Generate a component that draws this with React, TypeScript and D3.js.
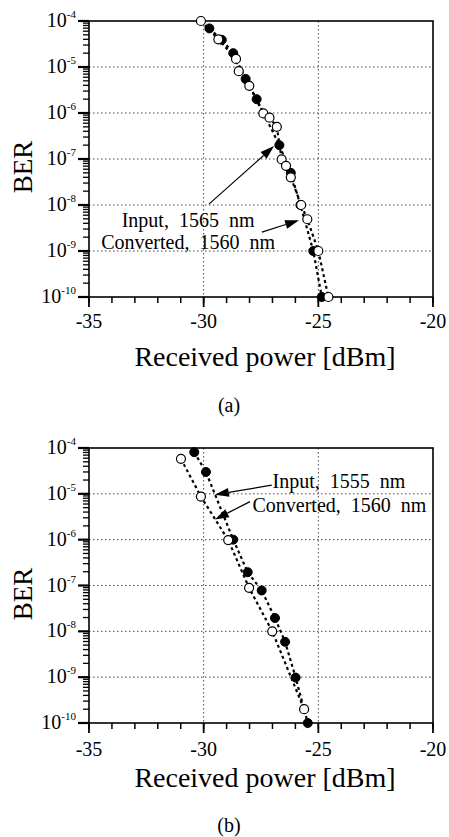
import React from "react";
import * as d3 from "d3";

// ---- Data (panel a) ----
const inputA_power = [-29.75, -29.21, -28.71, -28.17, -27.69, -26.7, -26.2, -25.78, -25.22, -24.85];
const inputA_ber = [6.9e-5, 3.9e-5, 2.0e-5, 5.5e-6, 2.0e-6, 2.0e-7, 5.0e-8, 1e-8, 1e-9, 1e-10];
const convA_power = [-30.12, -29.36, -28.59, -28.47, -28.01, -27.4, -27.13, -26.81, -26.6, -26.41, -26.2, -25.75, -25.48, -25.0, -24.56];
const convA_ber = [1e-4, 4.0e-5, 1.5e-5, 8.1e-6, 3.9e-6, 9.8e-7, 7.9e-7, 5.0e-7, 9.8e-8, 7.1e-8, 4.0e-8, 1e-8, 4.9e-9, 1e-9, 1e-10];

// ---- Data (panel b) ----
const inputB_power = [-30.41, -29.9, -28.71, -28.08, -27.47, -26.89, -26.45, -25.99, -25.46];
const inputB_ber = [8.1e-5, 3.0e-5, 1e-6, 1.95e-7, 7.8e-8, 1.95e-8, 5.9e-9, 9.8e-10, 1e-10];
const convB_power = [-30.99, -30.12, -28.93, -28.02, -27.01, -25.62];
const convB_ber = [5.8e-5, 8.7e-6, 9.8e-7, 8.9e-8, 1.0e-8, 2.0e-10];

// ---- Axes ----
const xMajorTicks = [-35, -30, -25, -20];
const xMinorTicks = d3.range(-35, -19, 1);
const xGrid = [-30, -25];
const yDecades = [-4, -5, -6, -7, -8, -9, -10];
const yGridDecades = [-5, -6, -7, -8, -9];
const xLabel = "Received power [dBm]";
const yLabel = "BER";

// ---- Annotations ----
const labelsA = ["Input,  1565  nm", "Converted,  1560  nm"];
const labelsB = ["Input,  1555  nm", "Converted,  1560  nm"];

const FONT = "'Liberation Serif', 'Times New Roman', serif";

type Panel = {
  yTop: number;
  yBot: number;
  tickBase: number;
  xLabelBase: number;
  capBase: number;
  berY: number;
  caption: string;
  input: { p: number[]; b: number[] };
  conv: { p: number[]; b: number[] };
  labels: string[];
  textPos: { x: number; ly: number }[];
  arrows: { x1: number; l1: number; x2: number; l2: number }[];
};

function Arrow({ x1, y1, x2, y2 }: { x1: number; y1: number; x2: number; y2: number }) {
  const ang = Math.atan2(y2 - y1, x2 - x1);
  const L = 14, W = 4.5;
  const bx = x2 - L * Math.cos(ang), by = y2 - L * Math.sin(ang);
  const px = -Math.sin(ang) * W, py = Math.cos(ang) * W;
  return (
    <g>
      <line x1={x1} y1={y1} x2={bx} y2={by} stroke="#000" strokeWidth={1.2} />
      <polygon points={`${x2},${y2} ${bx + px},${by + py} ${bx - px},${by - py}`} fill="#000" />
    </g>
  );
}

function PanelView({ cfg }: { cfg: Panel }) {
  const x = d3.scaleLinear().domain([-35, -20]).range([89, 433]);
  const y = d3.scaleLog().domain([1e-10, 1e-4]).range([cfg.yBot, cfg.yTop]);
  const line = d3
    .line<[number, number]>()
    .x((d) => x(d[0]))
    .y((d) => y(d[1]));
  const inPts: [number, number][] = cfg.input.p.map((p, i) => [p, cfg.input.b[i]]);
  const cvPts: [number, number][] = cfg.conv.p.map((p, i) => [p, cfg.conv.b[i]]);
  const minor: number[] = [];
  for (let e = -10; e < -4; e++) for (let m = 2; m <= 9; m++) minor.push(m * Math.pow(10, e));
  const x0 = x(-35), x1 = x(-20);
  return (
    <g fontFamily={FONT}>
      {xGrid.map((v) => (
        <line key={"gx" + v} x1={x(v)} x2={x(v)} y1={cfg.yTop} y2={cfg.yBot} stroke="#444" strokeWidth={1} strokeDasharray="1.5 2.5" />
      ))}
      {yGridDecades.map((e) => (
        <line key={"gy" + e} x1={x0} x2={x1} y1={y(Math.pow(10, e))} y2={y(Math.pow(10, e))} stroke="#444" strokeWidth={1} strokeDasharray="1.5 2.5" />
      ))}
      <rect x={x0} y={cfg.yTop} width={x1 - x0} height={cfg.yBot - cfg.yTop} fill="none" stroke="#000" strokeWidth={1.6} />
      {xMinorTicks.map((v) => (
        <line key={"xm" + v} x1={x(v)} x2={x(v)} y1={cfg.yBot} y2={cfg.yBot + 6} stroke="#000" strokeWidth={1.5} />
      ))}
      {xMajorTicks.map((v) => (
        <g key={"xM" + v}>
          <line x1={x(v)} x2={x(v)} y1={cfg.yBot} y2={cfg.yBot + 10} stroke="#000" strokeWidth={1.8} />
          <text x={x(v)} y={cfg.tickBase} textAnchor="middle" fontSize={20}>
            {String(v)}
          </text>
        </g>
      ))}
      {minor.map((v, i) => (
        <line key={"ym" + i} x1={x0 - 6} x2={x0} y1={y(v)} y2={y(v)} stroke="#000" strokeWidth={1.3} />
      ))}
      {yDecades.map((e) => (
        <g key={"yM" + e}>
          <line x1={x0 - 11} x2={x0} y1={y(Math.pow(10, e))} y2={y(Math.pow(10, e))} stroke="#000" strokeWidth={2.2} />
          <text x={76} y={y(Math.pow(10, e)) + 6} textAnchor="end" fontSize={20}>
            <tspan>10</tspan>
            <tspan fontSize={11} dy={-9}>{String(e)}</tspan>
          </text>
        </g>
      ))}
      <path d={line(inPts) || ""} fill="none" stroke="#000" strokeWidth={2.2} strokeDasharray="3 3" />
      <path d={line(cvPts) || ""} fill="none" stroke="#000" strokeWidth={2.2} strokeDasharray="3 3" />
      {inPts.map((d, i) => (
        <circle key={"i" + i} cx={x(d[0])} cy={y(d[1])} r={4.5} fill="#000" stroke="#000" strokeWidth={1} />
      ))}
      {cvPts.map((d, i) => (
        <circle key={"c" + i} cx={x(d[0])} cy={y(d[1])} r={4.5} fill="#fff" stroke="#000" strokeWidth={1.2} />
      ))}
      {cfg.labels.map((t, i) => (
        <text key={"t" + i} x={x(cfg.textPos[i].x)} y={y(Math.pow(10, cfg.textPos[i].ly))} textAnchor="middle" fontSize={20} style={{ whiteSpace: "pre" }} xmlSpace="preserve">
          {t}
        </text>
      ))}
      {cfg.arrows.map((a, i) => (
        <Arrow key={"a" + i} x1={x(a.x1)} y1={y(Math.pow(10, a.l1))} x2={x(a.x2)} y2={y(Math.pow(10, a.l2))} />
      ))}
      <text x={265} y={cfg.xLabelBase} textAnchor="middle" fontSize={28}>
        {xLabel}
      </text>
      <text transform={`translate(32,${cfg.berY}) rotate(-90)`} textAnchor="middle" fontSize={27}>
        {yLabel}
      </text>
      <text x={229} y={cfg.capBase} textAnchor="middle" fontSize={20}>
        {cfg.caption}
      </text>
    </g>
  );
}

const panelA: Panel = {
  yTop: 21,
  yBot: 297,
  tickBase: 328,
  xLabelBase: 366,
  capBase: 412,
  berY: 167,
  caption: "(a)",
  input: { p: inputA_power, b: inputA_ber },
  conv: { p: convA_power, b: convA_ber },
  labels: labelsA,
  textPos: [
    { x: -30.68, ly: -8.48 },
    { x: -30.68, ly: -8.96 },
  ],
  arrows: [
    { x1: -29.77, l1: -7.98, x2: -26.93, l2: -6.72 },
    { x1: -27.46, l1: -8.59, x2: -25.84, l2: -8.33 },
  ],
};

const panelB: Panel = {
  yTop: 448,
  yBot: 723,
  tickBase: 756,
  xLabelBase: 787,
  capBase: 832,
  berY: 594,
  caption: "(b)",
  input: { p: inputB_power, b: inputB_ber },
  conv: { p: convB_power, b: convB_ber },
  labels: labelsB,
  textPos: [
    { x: -24.1, ly: -4.87 },
    { x: -24.08, ly: -5.4 },
  ],
  arrows: [
    { x1: -27.03, l1: -4.81, x2: -29.51, l2: -5.02 },
    { x1: -27.98, l1: -5.17, x2: -29.51, l2: -5.56 },
  ],
};

export default function App() {
  return (
    <svg
      width={449}
      height={837}
      viewBox="0 0 449 837"
      style={{ position: "absolute", left: 0, top: 0, background: "#fff" }}
    >
      <rect width={449} height={837} fill="#fff" />
      <PanelView cfg={panelA} />
      <PanelView cfg={panelB} />
    </svg>
  );
}
